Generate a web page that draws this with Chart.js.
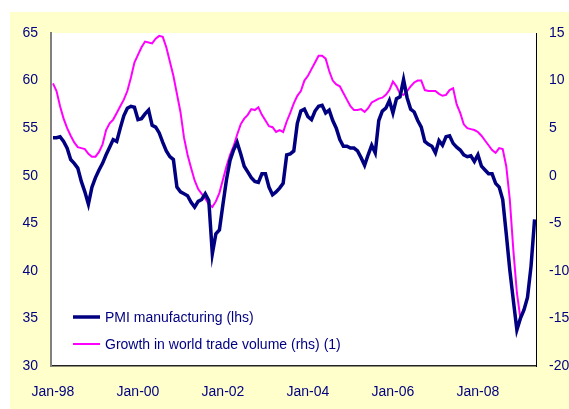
<!DOCTYPE html>
<html><head><meta charset="utf-8">
<script src="https://cdn.jsdelivr.net/npm/chart.js@4.4.0/dist/chart.umd.min.js"></script>
<style>html,body{margin:0;padding:0;background:#fff;}#wrap{position:relative;width:569px;height:409px;}</style>
</head><body><div id="wrap"><canvas id="c" width="569" height="409"></canvas></div>
<script>
const pmiLabel = 'PMI manufacturing (lhs)';
const tradeLabel = 'Growth in world trade volume (rhs) (1)';
const monthNames = ['Jan','Feb','Mar','Apr','May','Jun','Jul','Aug','Sep','Oct','Nov','Dec'];
const startYear = 1998;
const nMonths = 137;
const months = [];
for (let i = 0; i < nMonths; i++) {
  const y = startYear + Math.floor(i / 12);
  months.push(monthNames[i % 12] + '-' + String(y % 100).padStart(2, '0'));
}
const xTickLabels = ['Jan-98','Jan-00','Jan-02','Jan-04','Jan-06','Jan-08'];
const leftTicks = [30,35,40,45,50,55,60,65];
const rightTicks = [-20,-15,-10,-5,0,5,10,15];

const pmi = [
54.0,54.0,54.1,53.6,52.9,51.7,51.3,50.8,49.4,48.3,47.0,48.8,
49.8,50.6,51.3,52.2,53.0,53.8,53.6,55.0,56.3,57.1,57.3,57.2,
55.9,56.0,56.5,56.9,55.3,55.1,54.5,53.5,52.6,52.0,51.7,48.8,
48.3,48.1,47.9,47.2,46.7,47.3,47.5,48.1,47.4,41.8,43.9,44.3,
47.0,49.6,51.6,52.7,53.5,52.3,51.0,50.4,49.8,49.4,49.3,50.2,
50.2,48.8,48.0,48.3,48.7,49.2,52.2,52.3,52.6,55.5,56.8,57.0,
56.2,55.9,56.8,57.3,57.4,56.6,56.9,55.8,55.0,53.8,53.1,53.1,
52.9,52.9,52.6,51.9,51.1,52.2,53.2,52.4,55.8,56.8,57.1,57.9,
56.6,58.1,58.3,60.1,58.2,57.0,56.7,55.8,55.1,53.6,53.3,53.1,
52.4,53.7,53.2,54.1,54.2,53.4,53.0,52.7,52.2,52.0,52.1,51.5,
52.2,51.0,50.6,50.2,50.2,49.2,48.8,47.5,43.9,40.1,36.9,33.8,
35.0,35.9,37.2,40.5,45.4
];
const trade = [
9.7,8.9,7.3,6.0,5.0,4.2,3.5,3.0,2.9,2.8,2.3,2.0,
2.0,2.5,3.3,4.8,5.5,5.9,6.6,7.3,8.0,8.9,10.3,11.9,
12.7,13.5,14.1,14.0,13.9,14.4,14.7,14.6,13.5,12.0,10.5,8.6,
6.7,4.0,2.2,0.8,-0.5,-1.4,-1.9,-2.4,-3.0,-3.3,-2.7,-1.8,
-0.4,1.0,2.2,3.1,4.3,5.4,6.0,6.4,7.0,6.9,7.2,6.4,
5.8,5.2,5.1,4.6,4.8,4.6,5.7,6.6,7.6,8.4,8.9,10.0,
10.5,11.2,11.9,12.6,12.6,12.3,11.0,10.0,9.6,9.4,8.7,8.0,
7.3,6.9,6.9,7.0,6.7,7.1,7.7,7.9,8.1,8.2,8.5,9.0,
9.9,9.4,8.6,8.5,8.9,9.4,9.8,10.0,10.0,9.0,8.9,8.9,
8.9,8.6,8.4,8.5,9.0,9.2,7.5,6.6,5.4,5.0,4.9,4.8,
4.6,4.2,3.7,3.2,2.7,2.4,2.9,2.8,1.0,-2.5,-7.8,-12.3,
-15.0
];

const NAVY = '#000080';
const PINK = '#FF00FF';
const FONT = {family: '"Liberation Sans", Arial, sans-serif', size: 14};

const bgPlugin = {
  id: 'bg',
  beforeDraw(chart) {
    const ctx = chart.ctx, a = chart.chartArea;
    ctx.save();
    ctx.fillStyle = '#ffffff';
    ctx.fillRect(0, 0, chart.width, chart.height);
    ctx.fillStyle = '#FFFFCC';
    ctx.fillRect(10, 12, chart.width - 10, chart.height - 12);
    ctx.fillStyle = '#ffffff';
    ctx.fillRect(a.left, a.top, a.right - a.left, a.bottom - a.top);
    ctx.restore();
  }
};
const legendPlugin = {
  id: 'legendIn',
  afterDraw(chart) {
    const ctx = chart.ctx;
    const items = [
      {label: pmiLabel, color: NAVY, w: 3.5, y: 317},
      {label: tradeLabel, color: PINK, w: 2, y: 344}
    ];
    ctx.save();
    ctx.font = '14px "Liberation Sans", Arial, sans-serif';
    ctx.textBaseline = 'middle';
    items.forEach(it => {
      ctx.strokeStyle = it.color;
      ctx.lineWidth = it.w;
      ctx.beginPath();
      ctx.moveTo(73, it.y);
      ctx.lineTo(100, it.y);
      ctx.stroke();
      ctx.fillStyle = NAVY;
      ctx.fillText(it.label, 105, it.y + 1);
    });
    ctx.restore();
  }
};

new Chart(document.getElementById('c'), {
  type: 'line',
  data: {
    datasets: [
      {label: tradeLabel, data: trade.map((v, i) => ({x: i, y: v})), yAxisID: 'y2',
       borderColor: PINK, borderWidth: 2, pointRadius: 0, tension: 0, fill: false, order: 2},
      {label: pmiLabel, data: pmi.map((v, i) => ({x: i, y: v})), yAxisID: 'y',
       borderColor: NAVY, borderWidth: 3.5, pointRadius: 0, tension: 0, fill: false, order: 1}
    ]
  },
  options: {
    responsive: false,
    animation: false,
    layout: {padding: {top: 33, left: 0, right: 0, bottom: 0}},
    plugins: {legend: {display: false}, tooltip: {enabled: false}},
    scales: {
      x: {
        type: 'linear', min: -0.56, max: 136.4,
        grid: {display: false, drawTicks: false},
        border: {display: true, color: '#222', width: 1.5},
        afterBuildTicks: s => { s.ticks = xTickLabels.map(l => ({value: months.indexOf(l)})); },
        afterFit: s => { s.height = 43; },
        ticks: {autoSkip: false, maxRotation: 0, padding: 18, color: NAVY, font: FONT,
                callback: v => months[v]}
      },
      y: {
        position: 'left', min: leftTicks[0], max: leftTicks[leftTicks.length - 1],
        grid: {display: false, drawTicks: false},
        border: {display: true, color: '#808080', width: 2},
        afterFit: s => { s.width = 51; },
        afterBuildTicks: s => { s.ticks = leftTicks.map(v => ({value: v})); },
        ticks: {padding: 13, color: NAVY, font: FONT}
      },
      y2: {
        position: 'right', min: rightTicks[0], max: rightTicks[rightTicks.length - 1],
        grid: {display: false, drawTicks: false},
        border: {display: true, color: '#000', width: 1},
        afterFit: s => { s.width = 33; },
        afterBuildTicks: s => { s.ticks = rightTicks.map(v => ({value: v})); },
        ticks: {padding: 13, color: NAVY, font: FONT}
      }
    }
  },
  plugins: [bgPlugin, legendPlugin]
});
</script></body></html>
